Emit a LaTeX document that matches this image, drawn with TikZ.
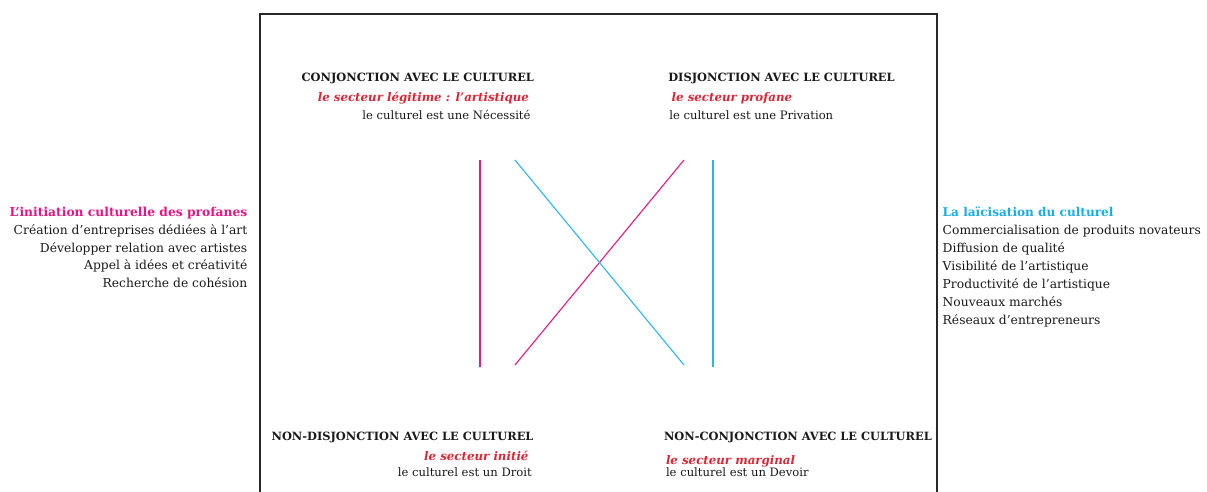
\documentclass[tikz,border=0pt]{standalone}
\usepackage{fontspec}
\setmainfont{DejaVu Serif}
\definecolor{magline}{RGB}{229,25,126}
\definecolor{cyanline}{RGB}{45,180,232}
\definecolor{magtext}{RGB}{230,20,128}
\definecolor{cyantext}{RGB}{25,172,230}
\definecolor{redtext}{RGB}{220,36,52}
\definecolor{framecol}{RGB}{40,40,40}
\tikzset{
  txt/.style={inner sep=0pt, outer sep=0pt, font=\fontsize{12.3}{14}\selectfont, text=black!90},
  btxt/.style={txt, font=\fontsize{11.6}{14}\selectfont},
  head/.style={txt, font=\fontsize{11.4}{14}\selectfont\bfseries},
  sect/.style={txt, font=\fontsize{11.8}{14}\selectfont\bfseries\itshape, text=redtext},
  maghead/.style={txt, font=\fontsize{12.3}{14}\selectfont\bfseries, text=magtext},
  cyanhead/.style={txt, font=\fontsize{12.1}{14}\selectfont\bfseries, text=cyantext},
  magln/.style={draw=magline, line width=1.1pt},
  cyanln/.style={draw=cyanline, line width=1.1pt},
  frame/.style={draw=framecol, line width=1.2pt}
}
\begin{document}
\begin{tikzpicture}[x=1pt,y=-1pt]
\useasboundingbox (0,0) rectangle (1207,492);
% frame
\coordinate (fbl) at (260,492);
\coordinate (ftl) at (260,14);
\coordinate (ftr) at (937,14);
\coordinate (fbr) at (937,492);
\draw[frame] (fbl) -- (ftl) -- (ftr) -- (fbr);
% lines
\coordinate (m1t) at (480,160);
\coordinate (m1b) at (480,367);
\coordinate (m2b) at (515,365);
\coordinate (m2t) at (684,160);
\coordinate (c1t) at (515,160);
\coordinate (c1b) at (684,365);
\coordinate (c2t) at (713,160);
\coordinate (c2b) at (713,367);
\draw[magln] (m1t) -- (m1b);
\draw[magln] (m2b) -- (m2t);
\draw[cyanln] (c1t) -- (c1b);
\draw[cyanln] (c2t) -- (c2b);
% top left
\node[head, anchor=base east] (tl1) at (534,81.7) {CONJONCTION AVEC LE CULTUREL};
\node[sect, anchor=base east] (tl2) at (529,101.7) {le secteur légitime : l’artistique};
\node[btxt, anchor=base east] (tl3) at (530.5,120) {le culturel est une Nécessité};
% top right
\node[head, anchor=base west] (tr1) at (668.3,81.7) {DISJONCTION AVEC LE CULTUREL};
\node[sect, anchor=base west] (tr2) at (671.7,101.7) {le secteur profane};
\node[btxt, anchor=base west] (tr3) at (669.3,120) {le culturel est une Privation};
% bottom left
\node[head, anchor=base east] (bl1) at (533.5,440.7) {NON-DISJONCTION AVEC LE CULTUREL};
\node[sect, anchor=base east] (bl2) at (528.5,460.7) {le secteur initié};
\node[btxt, anchor=base east] (bl3) at (531.7,476.7) {le culturel est un Droit};
% bottom right
\node[head, anchor=base west] (br1) at (664,440.7) {NON-CONJONCTION AVEC LE CULTUREL};
\node[sect, anchor=base west] (br2) at (666,464) {le secteur marginal};
\node[btxt, anchor=base west] (br3) at (666,476.7) {le culturel est un Devoir};
% left list
\node[maghead, anchor=base east] (l0) at (247.3,216.3) {L’initiation culturelle des profanes};
\node[txt, anchor=base east] (l1) at (247.3,234.15) {Création d’entreprises dédiées à l’art};
\node[txt, anchor=base east] (l2) at (247.3,252.0) {Développer relation avec artistes};
\node[txt, anchor=base east] (l3) at (247.3,269.85) {Appel à idées et créativité};
\node[txt, anchor=base east] (l4) at (247.3,287.7) {Recherche de cohésion};
% right list
\node[cyanhead, anchor=base west] (r0) at (942.7,216.7) {La laïcisation du culturel};
\node[txt, anchor=base west] (r1) at (942.7,234.6) {Commercialisation de produits novateurs};
\node[txt, anchor=base west] (r2) at (942.7,252.5) {Diffusion de qualité};
\node[txt, anchor=base west] (r3) at (942.7,270.4) {Visibilité de l’artistique};
\node[txt, anchor=base west] (r4) at (942.7,288.3) {Productivité de l’artistique};
\node[txt, anchor=base west] (r5) at (942.7,306.2) {Nouveaux marchés};
\node[txt, anchor=base west] (r6) at (942.7,324.1) {Réseaux d’entrepreneurs};
\end{tikzpicture}
\end{document}
